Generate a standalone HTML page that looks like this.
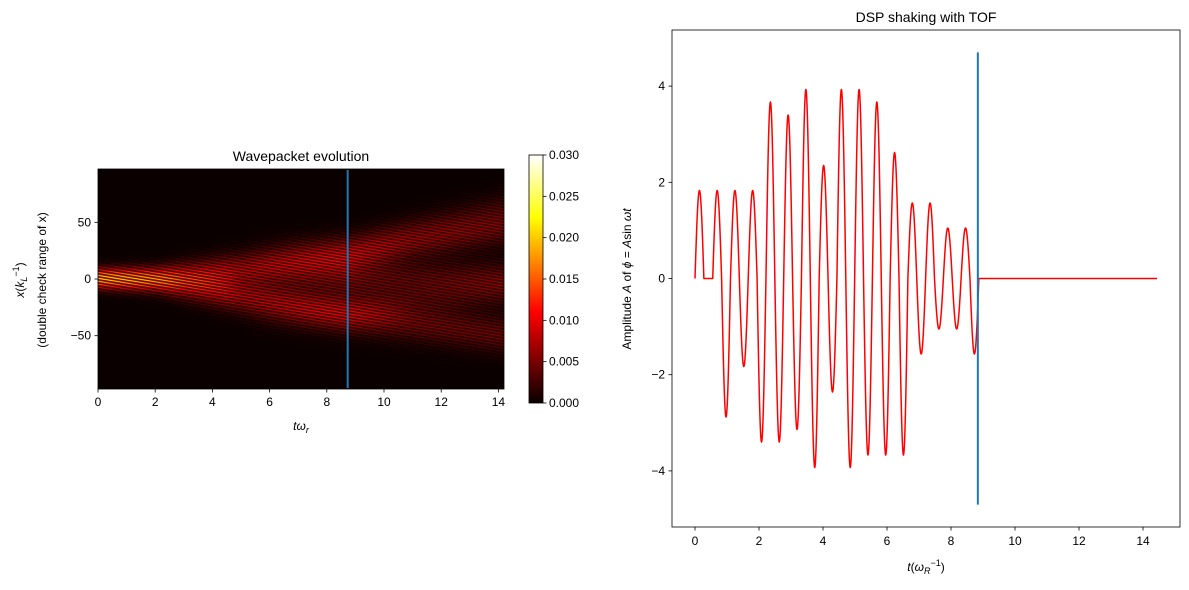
<!DOCTYPE html>
<html><head><meta charset="utf-8"><style>
body{margin:0;background:#fff;width:1189px;height:590px;overflow:hidden;position:relative;font-family:"Liberation Sans","DejaVu Sans",sans-serif}
svg{position:absolute;left:0;top:0}
canvas{position:absolute}
</style></head><body>
<canvas id="heat" width="406" height="220" style="left:98px;top:169px;width:406px;height:220px"></canvas>
<canvas id="cbar" width="14" height="248" style="left:529px;top:155px;width:14px;height:248px"></canvas>
<svg id="s" width="1189" height="590" font-size="12" fill="#000"></svg>
<script>
// ---- Left heatmap data ----
const branchTimes = [0, 2, 3, 5, 8.7, 11, 14.25];
const upperCenters = [0, 0, 2, 8, 20, 32, 45];
const lowerCenters = [0, -2, -6, -16, -32, -40, -50];
const upperOuter = [null, null, null, null, 22, 40, 62];
const lowerOuter = [null, null, null, null, -30, -20, -10];
const midCenters = [null, null, null, null, 0, 0, 0];
const branchAmps = [0.024, 0.019, 0.013, 0.0095, 0.0075, 0.006, 0.006];
const branchWidths = [6, 7, 9, 10, 11, 11, 11];
const cbarTicks = ["0.000","0.005","0.010","0.015","0.020","0.025","0.030"];
const leftXTicks = [0,2,4,6,8,10,12,14];
const leftYTicks = [50,0,-50];
// ---- Right plot data ----
const halfAmps = [1.83,0,1.83,-2.88,1.83,-1.83,1.83,-3.4,3.67,-3.4,3.4,-3.14,3.93,-3.93,2.35,-2.36,3.93,-3.93,3.93,-3.67,3.67,-3.67,2.62,-3.67,1.57,-1.57,1.57,-1.05,1.05,-1.05,1.05,-1.57];
const shakeEnd = [8.87];
const tEnd = [14.44];
const rightXTicks = [0,2,4,6,8,10,12,14];
const rightYTicks = [-4,-2,0,2,4];
const markerTime = [8.73, 8.87];

const NS="http://www.w3.org/2000/svg", S=document.getElementById('s');
function el(tag,attrs,parent,text){const e=document.createElementNS(NS,tag);for(const k in attrs)e.setAttribute(k,attrs[k]);if(text!==undefined)e.textContent=text;(parent||S).appendChild(e);return e;}

const lx=t=>98+t*28.6, ly=v=>279-v*1.134;
const rx=t=>695+t*32, ry=v=>278.5-v*48.1;

function hot(x){x=Math.max(0,Math.min(1,x));const r=Math.min(1,0.0416+x/0.365*0.9584),g=Math.max(0,Math.min(1,(x-0.365)/0.381)),b=Math.max(0,Math.min(1,(x-0.746)/0.254));return[r*255,g*255,b*255];}
function interp(arr,t){for(let i=0;i<branchTimes.length-1;i++){if(t<=branchTimes[i+1]){const f=(t-branchTimes[i])/(branchTimes[i+1]-branchTimes[i]);return arr[i]+(arr[i+1]-arr[i])*f;}}return arr[arr.length-1];}
function interpN(arr,t){for(let i=0;i<branchTimes.length-1;i++){if(t<=branchTimes[i+1]){const f=(t-branchTimes[i])/(branchTimes[i+1]-branchTimes[i]);if(arr[i]===null){if(arr[i+1]===null)return null;return {c:arr[i+1],f:f};}return {c:arr[i]+(arr[i+1]-arr[i])*f,f:1};}}return {c:arr[arr.length-1],f:1};}
(function(){
  const c=document.getElementById('heat'),g=c.getContext('2d'),img=g.createImageData(406,220);
  for(let px=0;px<406;px++){
    const t=px/28.6;
    const A=interp(branchAmps,t), w=interp(branchWidths,t);
    const cu=interp(upperCenters,t), cl=interp(lowerCenters,t);
    const extras=[];
    [[upperOuter,0.5],[lowerOuter,0.6],[midCenters,0.8]].forEach(([arr,s])=>{const r=interpN(arr,t);if(r)extras.push([r.c,s*r.f]);});
    const sep=Math.min(1,Math.abs(cu-cl)/(2*w));
    const bw=1-0.5*(1-sep)*1; // weight per branch so merged sum ~A
    for(let py=0;py<220;py++){
      const y=96-py*(194/220);
      let v=A*bw*(Math.exp(-((y-cu)**2)/(2*w*w))+Math.exp(-((y-cl)**2)/(2*w*w)));
      extras.forEach(([cc,s])=>{v+=A*s*Math.exp(-((y-cc)**2)/(2*w*w));});
      const stripe=0.5+0.5*Math.cos(y*2.4+px*0.35);
      v*=stripe;
      const [r,gg,b]=hot(v/0.03);const i=(py*406+px)*4;
      img.data[i]=r;img.data[i+1]=gg;img.data[i+2]=b;img.data[i+3]=255;
    }
  }
  g.putImageData(img,0,0);
  const cb=document.getElementById('cbar'),h=cb.getContext('2d');
  for(let py=0;py<248;py++){const[r,gg,b]=hot(1-py/247);h.fillStyle=`rgb(${r|0},${gg|0},${b|0})`;h.fillRect(0,py,14,1);}
})();

el('rect',{x:98,y:169,width:406,height:220,fill:'none',stroke:'#000','stroke-width':0.8,});
const ml=el('line',{x1:lx(markerTime[0]),x2:lx(markerTime[0]),y1:170,y2:388,stroke:'#1f77b4','stroke-width':2});

leftXTicks.forEach(v=>{const x=lx(v);el('line',{x1:x,x2:x,y1:389,y2:392.5,stroke:'#000','stroke-width':0.8});const t=el('text',{x:x,y:406,'text-anchor':'middle','font-size':12},S,String(v));});
leftYTicks.forEach(v=>{const y=ly(v);el('line',{x1:94.5,x2:98,y1:y,y2:y,stroke:'#000','stroke-width':0.8});const t=el('text',{x:91,y:y+4,'text-anchor':'end','font-size':12},S,v<0?'−'+(-v):String(v));});
el('text',{x:301,y:161,'text-anchor':'middle','font-size':14,},S,'Wavepacket evolution');
const xl=el('text',{x:301,y:430,'text-anchor':'middle','font-size':12,'font-style':'italic',});
xl.innerHTML='t<tspan>ω</tspan><tspan font-size="9" dy="3">r</tspan>';
const yl=el('text',{transform:'translate(24,280) rotate(-90)','text-anchor':'middle','font-size':12,});
yl.innerHTML='<tspan font-style="italic">x</tspan>(<tspan font-style="italic">k</tspan><tspan font-size="9" dy="3" font-style="italic">L</tspan><tspan font-size="9" dy="-8">−1</tspan><tspan dy="5">)</tspan>';
el('text',{transform:'translate(46,280) rotate(-90)','text-anchor':'middle','font-size':12,},S,'(double check range of x)');
el('rect',{x:529,y:155,width:14,height:248,fill:'none',stroke:'#000','stroke-width':0.8,});
cbarTicks.forEach((s,i)=>{const y=403-i*248/6;el('line',{x1:543,x2:546.5,y1:y,y2:y,stroke:'#000','stroke-width':0.8});const t=el('text',{x:549,y:y+4,'font-size':12},S,s);});

el('rect',{x:672,y:30,width:508,height:497,fill:'none',stroke:'#000','stroke-width':0.8,});
rightXTicks.forEach(v=>{const x=rx(v);el('line',{x1:x,x2:x,y1:527,y2:530.5,stroke:'#000','stroke-width':0.8});const t=el('text',{x:x,y:545,'text-anchor':'middle','font-size':12},S,String(v));});
rightYTicks.forEach(v=>{const y=ry(v);el('line',{x1:668.5,x2:672,y1:y,y2:y,stroke:'#000','stroke-width':0.8});const t=el('text',{x:665,y:y+4,'text-anchor':'end','font-size':12},S,v<0?'−'+(-v):String(v));});
el('text',{x:926,y:22,'text-anchor':'middle','font-size':14,},S,'DSP shaking with TOF');
const rxl=el('text',{x:926,y:571,'text-anchor':'middle','font-size':12,});
rxl.innerHTML='<tspan font-style="italic">t</tspan>(<tspan font-style="italic">ω</tspan><tspan font-size="9" dy="3" font-style="italic">R</tspan><tspan font-size="9" dy="-8">−1</tspan><tspan dy="5">)</tspan>';
const ryl=el('text',{transform:'translate(631,279) rotate(-90)','text-anchor':'middle','font-size':12,});
ryl.innerHTML='Amplitude <tspan font-style="italic">A</tspan> of <tspan font-style="italic">ϕ</tspan> = <tspan font-style="italic">A</tspan>sin <tspan font-style="italic">ωt</tspan>';
(function(){
  const h=shakeEnd[0]/halfAmps.length;let d='';
  halfAmps.forEach((a,i)=>{for(let k=0;k<=24;k++){const f=k/24,t=(i+f)*h,v=a*Math.sin(Math.PI*f);d+=(d?'L':'M')+rx(t).toFixed(2)+','+ry(v).toFixed(2);}});
  d+='L'+rx(tEnd[0]).toFixed(2)+','+ry(0).toFixed(2);
  const p=el('path',{d:d,fill:'none',stroke:'#ff0000','stroke-width':1.5,'stroke-linejoin':'round'});
  
})();
const mr=el('line',{x1:rx(markerTime[1])-1,x2:rx(markerTime[1])-1,y1:ry(4.7),y2:ry(-4.7),stroke:'#1f77b4','stroke-width':2});

</script>
</body></html>
